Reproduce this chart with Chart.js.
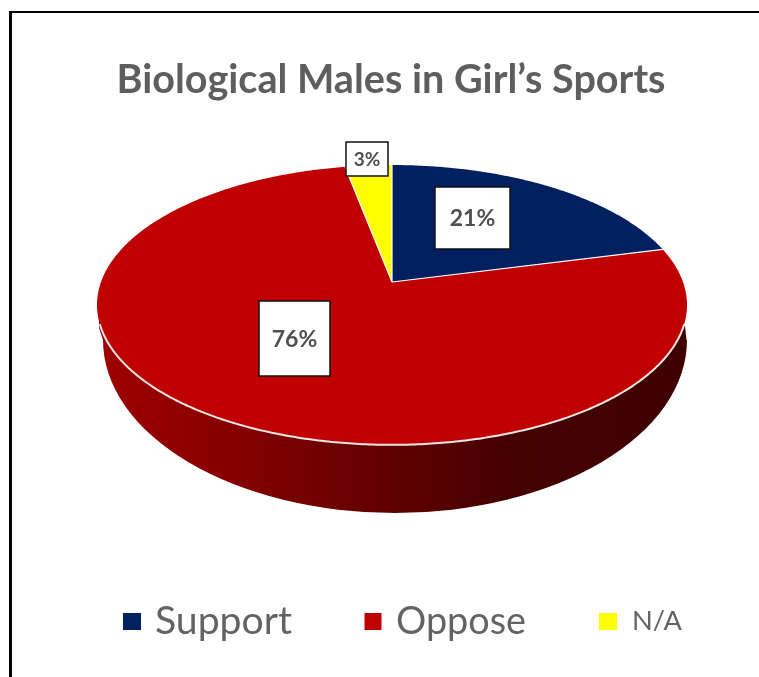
<!DOCTYPE html>
<html><head><meta charset="utf-8">
<style>
html,body{margin:0;padding:0;background:#fff;width:759px;height:677px;overflow:hidden}
#frame{position:absolute;left:9px;top:11px;right:0;bottom:0;border-left:3px solid #000;border-top:2px solid #000}
canvas{position:absolute;left:0;top:0}
</style>
<script src="https://cdn.jsdelivr.net/npm/chart.js@4"></script>
</head><body>
<div id="frame"></div>
<canvas id="c" width="759" height="677"></canvas>
<script>
const categories = ["Support", "Oppose", "N/A"];
const values = [21, 76, 3];
const valueLabels = ["21%", "76%", "3%"];
const colors = ["#002060", "#C00000", "#FFFF00"];
const chartTitle = "Biological Males in Girl\u2019s Sports";

// perspective projection of the pie's unit circle onto the page
const P = {cx:392, apexY:282, C:-0.164, A:89.9, D:291};
function project(a){
  const x=Math.cos(a), y=Math.sin(a), w=1+P.C*y;
  return [P.cx+P.D*x/w, (P.A*y+P.apexY)/w];
}
function tracePerimeter(ctx,a0,a1){
  const n=Math.max(2,Math.ceil(Math.abs(a1-a0)/0.01));
  for(let i=0;i<=n;i++){const p=project(a0+(a1-a0)*i/n); ctx.lineTo(p[0],p[1]);}
}
const pie3d = {
  id:'pie3d',
  beforeDatasetDraw(chart,args){
    const ctx=chart.ctx, arcs=args.meta.data;
    ctx.save();
    // side wall
    const g=ctx.createLinearGradient(97,0,687,0);
    g.addColorStop(0,'#a00000');
    g.addColorStop(0.25,'#830000');
    g.addColorStop(0.5,'#600000');
    g.addColorStop(0.7,'#450000');
    g.addColorStop(1,'#400000');
    ctx.beginPath();
    ctx.moveTo(685,326);
    ctx.lineTo(686.5,340);
    ctx.ellipse(395,340,292,173,0,0,Math.PI);
    ctx.lineTo(99,328);
    ctx.lineTo(99,322);
    ctx.closePath();
    ctx.fillStyle=g; ctx.fill();
    // top faces
    arcs.forEach((arc,i)=>{
      ctx.beginPath();
      ctx.moveTo(P.cx,P.apexY);
      tracePerimeter(ctx,arc.startAngle,arc.endAngle);
      ctx.closePath();
      ctx.fillStyle=colors[i]; ctx.fill();
    });
    // white slice edges
    ctx.strokeStyle='#fff'; ctx.lineWidth=1.2; ctx.lineJoin='round';
    arcs.forEach(arc=>{
      const p=project(arc.startAngle);
      ctx.beginPath(); ctx.moveTo(P.cx,P.apexY); ctx.lineTo(p[0],p[1]); ctx.stroke();
    });
    // white front rim
    ctx.lineWidth=2; ctx.strokeStyle='#f4e6e6';
    ctx.beginPath();
    const a0=0.3; const s=project(a0); ctx.moveTo(s[0],s[1]);
    tracePerimeter(ctx,a0,Math.PI-a0);
    ctx.stroke();
    ctx.restore();
    return false;
  },
  afterDraw(chart){
    const ctx=chart.ctx;
    ctx.save();
    // value label boxes
    const boxes=[[435,187,75,62,23],[259,301,71,75,23],[346,142,42,34,19]];
    boxes.forEach((b,i)=>{
      ctx.fillStyle='#fff'; ctx.fillRect(b[0],b[1],b[2],b[3]);
      ctx.strokeStyle='#111'; ctx.lineWidth=1.5; ctx.strokeRect(b[0],b[1],b[2],b[3]);
      ctx.fillStyle='#505050';
      ctx.font='bold '+b[4]+'px Lato'; ctx.textAlign='center'; ctx.textBaseline='middle';
      ctx.fillText(valueLabels[i],b[0]+b[2]/2,b[1]+b[3]/2+1);
    });
    // legend
    const items=[[123,18,155,137,39.5],[364.5,17,396,130,38],[599,18,632,50,27.5]];
    items.forEach((it,i)=>{
      ctx.fillStyle=colors[i]; ctx.fillRect(it[0],613,it[1],17);
      ctx.fillStyle='#636363';
      ctx.font=it[4]+'px Lato'; ctx.textAlign='left'; ctx.textBaseline='alphabetic';
      ctx.fillText(categories[i],it[2],i==2?630:634,it[3]);
    });
    ctx.restore();
  }
};
new Chart(document.getElementById('c'),{
  type:'pie',
  data:{labels:categories,datasets:[{data:values,backgroundColor:colors,borderWidth:0}]},
  options:{
    responsive:false,animation:false,
    layout:{padding:{left:23,top:56,right:0,bottom:230}},
    plugins:{
      legend:{display:false},
      tooltip:{enabled:false},
      title:{display:true,text:chartTitle,color:'#5e5e5e',
        font:{family:'Lato',size:39.6,weight:'bold'},padding:{top:0,bottom:0}}
    }
  },
  plugins:[pie3d]
});
</script>
</body></html>
